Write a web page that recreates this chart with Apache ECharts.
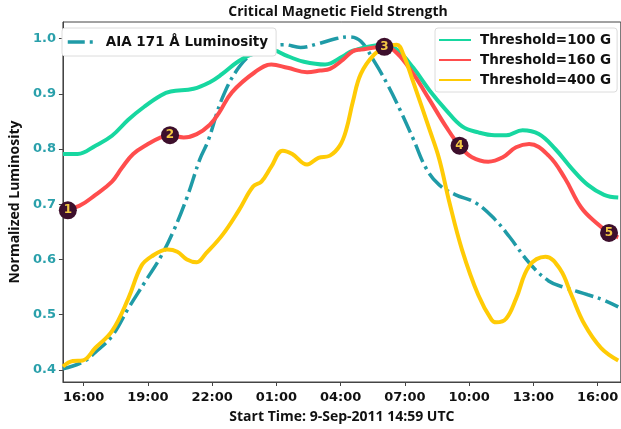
<!DOCTYPE html>
<html>
<head>
<meta charset="utf-8">
<script src="https://cdn.jsdelivr.net/npm/echarts@6/dist/echarts.min.js"></script>
<style>
html,body{margin:0;padding:0;background:#fff;}
#chart{width:621px;height:429px;}
</style>
</head>
<body>
<div id="chart"></div>
<script>
// Time in hours since 00:00 on 9-Sep-2011 (values > 24 are on 10-Sep)
const xTicks = [16, 19, 22, 25, 28, 31, 34, 37, 40];
const yTicks = [0.4, 0.5, 0.6, 0.7, 0.8, 0.9, 1.0];

const aiaTimes = [15.03, 15.95, 16.55, 17.32, 18.08, 18.84, 19.60, 20.21, 20.82, 21.43, 21.81, 22.47, 23.23, 23.99, 25.36, 26.13, 26.89, 27.80, 28.41, 28.94, 29.56, 30.17, 30.77, 31.39, 31.99, 32.60, 33.37, 34.28, 35.19, 35.88, 36.80, 37.71, 38.47, 39.54, 40.30, 40.96];
const aiaValues = [0.402, 0.414, 0.432, 0.461, 0.511, 0.558, 0.605, 0.653, 0.712, 0.782, 0.815, 0.892, 0.947, 0.974, 0.989, 0.984, 0.990, 1.000, 1.003, 0.995, 0.959, 0.918, 0.871, 0.818, 0.765, 0.735, 0.717, 0.703, 0.673, 0.641, 0.594, 0.561, 0.549, 0.536, 0.526, 0.514];

const t100Times = [15.03, 15.72, 16.55, 17.32, 18.08, 18.84, 19.60, 20.06, 21.13, 21.89, 22.47, 23.23, 23.99, 24.68, 25.52, 26.28, 27.27, 28.11, 28.57, 30.01, 30.62, 31.39, 32.15, 32.91, 33.67, 34.43, 35.19, 35.73, 36.49, 37.25, 38.02, 38.78, 39.54, 40.30, 40.96];
const t100Values = [0.791, 0.791, 0.806, 0.824, 0.853, 0.877, 0.897, 0.904, 0.909, 0.921, 0.936, 0.959, 0.974, 0.980, 0.968, 0.958, 0.953, 0.968, 0.978, 0.989, 0.980, 0.947, 0.906, 0.871, 0.841, 0.830, 0.825, 0.825, 0.834, 0.827, 0.800, 0.765, 0.735, 0.717, 0.712];

const t160Times = [15.03, 15.79, 16.55, 17.32, 17.77, 18.31, 19.00, 19.60, 20.03, 20.67, 21.28, 21.89, 22.31, 22.93, 23.99, 24.76, 25.52, 26.43, 27.04, 27.50, 28.11, 28.57, 28.94, 30.04, 30.62, 31.39, 32.15, 32.91, 33.55, 34.13, 34.89, 35.57, 36.19, 36.80, 37.71, 38.47, 39.23, 40.00, 40.53, 40.96];
const t160Values = [0.690, 0.697, 0.717, 0.741, 0.765, 0.791, 0.809, 0.821, 0.825, 0.821, 0.827, 0.844, 0.865, 0.903, 0.939, 0.953, 0.947, 0.939, 0.942, 0.945, 0.962, 0.977, 0.980, 0.985, 0.974, 0.936, 0.889, 0.841, 0.806, 0.785, 0.777, 0.785, 0.803, 0.809, 0.788, 0.747, 0.694, 0.664, 0.648, 0.640];

const t400Times = [15.03, 15.49, 15.95, 16.55, 17.32, 18.08, 18.69, 19.15, 19.91, 20.37, 20.82, 21.28, 21.71, 22.47, 23.23, 23.91, 24.30, 24.76, 25.29, 25.74, 26.43, 26.96, 27.50, 27.96, 28.26, 28.57, 28.94, 29.56, 30.17, 30.62, 30.93, 31.39, 32.15, 32.60, 33.06, 33.67, 34.43, 35.04, 35.27, 35.73, 36.19, 36.80, 37.56, 38.25, 38.78, 39.39, 40.15, 40.96];
const t400Values = [0.406, 0.416, 0.417, 0.440, 0.470, 0.529, 0.588, 0.605, 0.618, 0.614, 0.600, 0.595, 0.611, 0.644, 0.688, 0.732, 0.741, 0.768, 0.797, 0.791, 0.772, 0.784, 0.788, 0.806, 0.835, 0.886, 0.936, 0.971, 0.986, 0.989, 0.971, 0.921, 0.835, 0.782, 0.706, 0.617, 0.535, 0.491, 0.486, 0.493, 0.529, 0.588, 0.605, 0.582, 0.535, 0.482, 0.440, 0.417];

const markerTimes = [15.26, 20.03, 30.04, 33.55, 40.53];
const markerValues = [0.689, 0.825, 0.985, 0.806, 0.648];
const markerLabels = ['1', '2', '3', '4', '5'];

const names = ['AIA 171 Å Luminosity', 'Threshold=100 G', 'Threshold=160 G', 'Threshold=400 G'];
const colors = ['#1f9ba7', '#17d7a0', '#ff4d4d', '#ffcb05'];

const zip = (t, v) => t.map((x, i) => [x, v[i]]);
const pad = n => (n < 10 ? '0' : '') + n;

const chart = echarts.init(document.getElementById('chart'), null, {renderer: 'canvas'});
const legendText = {fontFamily: 'DejaVu Sans', fontWeight: 'bold', fontSize: 13.5, color: '#111', lineHeight: 16};
const labelFont = {fontFamily: 'Open Sans', fontWeight: 'bold', fontSize: 14, color: '#111'};

chart.setOption({
  animation: false,
  backgroundColor: '#fff',
  grid: {left: 54, top: 22, right: -3, bottom: 38, show: true, borderColor: '#444', borderWidth: 1, backgroundColor: 'transparent'},
  graphic: [{
    type: 'text', x: 338, y: 5,
    style: {text: 'Critical Magnetic Field Strength', font: 'bold 14px "Open Sans"', fill: '#111', textAlign: 'center', textVerticalAlign: 'top'}
  }],
  legend: [
    {
      data: [names[0]], left: 62, top: 28, orient: 'vertical',
      backgroundColor: '#fff', borderColor: '#dcdcdc', borderWidth: 1, borderRadius: 3,
      padding: [6, 8, 6, 4], itemWidth: 30, itemHeight: 14,
      itemStyle: {color: 'transparent', borderWidth: 0},
      lineStyle: {type: [17, 5, 3, 5], width: 3.5},
      textStyle: Object.assign({padding: [0, 0, 0, 3]}, legendText)
    },
    {
      data: names.slice(1), left: 435, top: 28, orient: 'vertical',
      backgroundColor: '#fff', borderColor: '#dcdcdc', borderWidth: 1, borderRadius: 3,
      padding: [4, 6, 4, 3], itemGap: 4, itemWidth: 32, itemHeight: 14,
      itemStyle: {color: 'transparent', borderWidth: 0},
      textStyle: Object.assign({padding: [0, 0, 0, 4]}, legendText)
    }
  ],
  xAxis: {
    type: 'value', min: 15.03, max: 41.08,
    name: 'Start Time: 9-Sep-2011 14:59 UTC', nameLocation: 'middle', nameGap: 28,
    nameTextStyle: labelFont,
    axisLine: {show: true, lineStyle: {color: '#444', width: 1}},
    axisTick: {show: true, length: 4, customValues: xTicks, lineStyle: {color: '#444'}},
    axisLabel: {customValues: xTicks, margin: 9, fontFamily: 'DejaVu Sans', fontWeight: 'bold', fontSize: 13, color: '#111',
      formatter: v => pad(Math.round(v) % 24) + ':00'},
    splitLine: {show: false}
  },
  yAxis: {
    type: 'value', min: 0.378, max: 1.030,
    name: 'Normalized Luminosity', nameLocation: 'middle', nameGap: 38, nameRotate: 90,
    nameTextStyle: labelFont,
    axisLine: {show: true, lineStyle: {color: '#444', width: 1}},
    axisTick: {show: true, length: 4, customValues: yTicks, lineStyle: {color: '#444'}},
    axisLabel: {customValues: yTicks, margin: 7, fontFamily: 'DejaVu Sans', fontWeight: 'bold', fontSize: 13, color: '#2aa0ab',
      formatter: v => v.toFixed(1)},
    splitLine: {show: false}
  },
  series: [
    {name: names[0], type: 'line', data: zip(aiaTimes, aiaValues), smooth: 0.4, symbol: 'none', z: 2,
      lineStyle: {color: colors[0], width: 3.5, type: [19, 5, 3, 5], cap: 'butt'}, itemStyle: {color: colors[0]}},
    {name: names[1], type: 'line', data: zip(t100Times, t100Values), smooth: 0.4, symbol: 'none', z: 3,
      lineStyle: {color: colors[1], width: 4}, itemStyle: {color: colors[1]}},
    {name: names[2], type: 'line', data: zip(t160Times, t160Values), smooth: 0.4, symbol: 'none', z: 4,
      lineStyle: {color: colors[2], width: 4}, itemStyle: {color: colors[2]}},
    {name: names[3], type: 'line', data: zip(t400Times, t400Values), smooth: 0.4, symbol: 'none', z: 5,
      lineStyle: {color: colors[3], width: 4}, itemStyle: {color: colors[3]}},
    {name: 'markers', type: 'scatter', z: 10, symbol: 'circle', symbolSize: 18,
      data: markerTimes.map((t, i) => ({value: [t, markerValues[i]], label: {formatter: markerLabels[i]}})),
      itemStyle: {color: '#3d0f2c', opacity: 1},
      label: {show: true, position: 'inside', fontFamily: 'DejaVu Sans', fontWeight: 'bold', fontSize: 12, color: '#f2c744'}}
  ]
});
</script>
</body>
</html>
